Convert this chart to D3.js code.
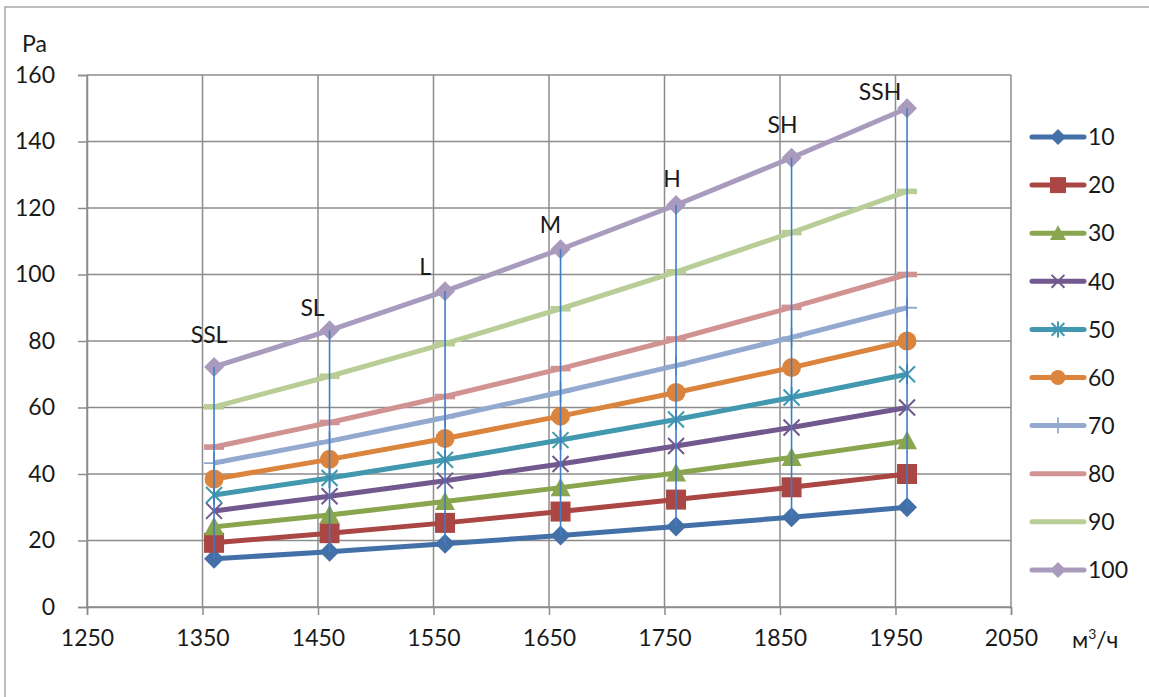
<!DOCTYPE html>
<html><head><meta charset="utf-8">
<script src="https://cdn.jsdelivr.net/npm/d3@7/dist/d3.min.js"></script>
<style>
html,body{margin:0;padding:0;background:#fff;}
svg{display:block;}
text{font-family:Lato,"Open Sans",sans-serif;fill:#1a1a1a;}
</style></head>
<body>
<script>
// ---- data ----
const flows = [1360, 1460, 1560, 1660, 1760, 1860, 1960];
const seriesNames = ["10","20","30","40","50","60","70","80","90","100"];
const s10  = [14.5, 16.6, 19.0, 21.5, 24.2, 27.0, 30];
const s20  = [19.3, 22.2, 25.3, 28.7, 32.3, 36.0, 40];
const s30  = [24.1, 27.7, 31.7, 35.9, 40.3, 45.0, 50];
const s40  = [28.9, 33.3, 38.0, 43.0, 48.4, 54.0, 60];
const s50  = [33.7, 38.8, 44.3, 50.2, 56.4, 63.0, 70];
const s60  = [38.5, 44.4, 50.7, 57.4, 64.5, 72.0, 80];
const s70  = [43.3, 49.9, 57.0, 64.6, 72.6, 81.1, 90];
const s80  = [48.1, 55.5, 63.3, 71.7, 80.6, 90.1, 100];
const s90  = [60.2, 69.4, 79.2, 89.7, 100.8, 112.6, 125];
const s100 = [72.2, 83.2, 95.0, 107.6, 120.9, 135.1, 150];
const pointLabels = ["SSL","SL","L","M","H","SH","SSH"];
const xTicks = [1250,1350,1450,1550,1650,1750,1850,1950,2050];
const yTicks = [0,20,40,60,80,100,120,140,160];

// ---- styles ----
const colors  = ["#4470a8","#aa4643","#89a54e","#71588f","#4198af","#db843d","#93a9cf","#d19392","#b9cd96","#a99bbd"];
const markers = ["diamond","square","triangle","x","star","circle","plus","dash","dash","diamond"];
const labelDx = [-5,-17,-20,-10,-4,-9,-27];
const labelDy = [-24,-14,-16,-16,-18,-25,-8];
const FS = "23px";

const allSeries = [s10,s20,s30,s40,s50,s60,s70,s80,s90,s100];

const W = 1149, H = 697;
const svg = d3.select("body").append("svg").attr("width", W).attr("height", H);

// outer chart border
svg.append("path").attr("d", `M5,${H} V7 H${W}`).attr("fill","none")
  .attr("stroke","#a6a6a6").attr("stroke-width",1.5);

const x = d3.scaleLinear().domain([1250,2050]).range([87,1011]);
const y = d3.scaleLinear().domain([0,160]).range([607,75]);
const gridColor = "#8c8c8c";

// gridlines
const g = svg.append("g");
g.selectAll(".vg").data(xTicks).join("line")
  .attr("x1", d=>x(d)).attr("x2", d=>x(d)).attr("y1", y(160)).attr("y2", y(0))
  .attr("stroke", gridColor).attr("stroke-width", 1.5);
g.selectAll(".hg").data(yTicks).join("line")
  .attr("x1", x(1250)).attr("x2", x(2050)).attr("y1", d=>y(d)).attr("y2", d=>y(d))
  .attr("stroke", gridColor).attr("stroke-width", 1.5);

// axes
const xAxis = d3.axisBottom(x).tickValues(xTicks).tickSize(8).tickPadding(15).tickFormat(d3.format("d"));
const yAxis = d3.axisLeft(y).tickValues(yTicks).tickSize(9).tickPadding(23).tickFormat(d3.format("d"));
const gx = svg.append("g").attr("transform", `translate(0,${y(0)})`).call(xAxis);
const gy = svg.append("g").attr("transform", `translate(${x(1250)},0)`).call(yAxis);
[gx, gy].forEach(a => {
  a.select(".domain").attr("stroke", gridColor).attr("stroke-width", 1.5);
  a.selectAll(".tick line").attr("stroke", gridColor).attr("stroke-width", 1.5);
  a.selectAll(".tick text").style("font-family","Lato,'Open Sans',sans-serif")
    .style("font-size",FS).attr("fill","#1a1a1a");
});
gx.selectAll(".tick text").attr("dy","0.71em");

// axis titles
svg.append("text").attr("x", 22).attr("y", 52).style("font-size",FS).text("Pa");
const unit = svg.append("text").attr("x", 1072).attr("y", 648).style("font-size",FS);
unit.append("tspan").text("м");
unit.append("tspan").attr("dy",-9).style("font-size","14px").text("3");
unit.append("tspan").attr("dy",9).text("/ч");

// marker drawing
function drawMarker(sel, type, color, s) {
  const h = s/2;
  if (type === "diamond") {
    sel.append("path").attr("d", `M0,${-h}L${h},0L0,${h}L${-h},0Z`).attr("fill", color);
  } else if (type === "square") {
    sel.append("rect").attr("x",-h).attr("y",-h).attr("width",s).attr("height",s).attr("fill",color);
  } else if (type === "triangle") {
    sel.append("path").attr("d", `M0,${-h}L${h},${h*0.85}L${-h},${h*0.85}Z`).attr("fill", color);
  } else if (type === "circle") {
    sel.append("circle").attr("r", h*0.95).attr("fill", color);
  } else if (type === "x") {
    const k = h*0.8;
    sel.append("path").attr("d", `M${-k},${-k}L${k},${k}M${-k},${k}L${k},${-k}`)
      .attr("stroke", color).attr("stroke-width", 2).attr("fill","none");
  } else if (type === "star") {
    const k = h*0.8;
    sel.append("path").attr("d", `M${-k},${-k}L${k},${k}M${-k},${k}L${k},${-k}M0,${-h}L0,${h}`)
      .attr("stroke", color).attr("stroke-width", 2).attr("fill","none");
  } else if (type === "plus") {
    sel.append("path").attr("d", `M${-h},0L${h},0M0,${-h}L0,${h}`)
      .attr("stroke", color).attr("stroke-width", 1.8).attr("fill","none");
  } else if (type === "dash") {
    sel.append("rect").attr("x",-h).attr("y",-2.8).attr("width",s).attr("height",5.6).attr("fill",color);
  }
}

// series
const line = d3.line().x((d,i)=>x(flows[i])).y(d=>y(d));
allSeries.forEach((vals, si) => {
  svg.append("path").datum(vals).attr("d", line).attr("fill","none")
    .attr("stroke", colors[si]).attr("stroke-width", 5).attr("stroke-linejoin","round");
  vals.forEach((v, i) => {
    const m = svg.append("g").attr("transform", `translate(${x(flows[i])},${y(v)})`);
    drawMarker(m, markers[si], colors[si], 20);
  });
});

// high-low lines
flows.forEach((f, i) => {
  const vs = allSeries.map(s => s[i]);
  svg.append("line").attr("x1", x(f)).attr("x2", x(f))
    .attr("y1", y(d3.min(vs))).attr("y2", y(d3.max(vs)))
    .attr("stroke", "#3f7cc6").attr("stroke-width", 1.6);
});

// point labels on top series
pointLabels.forEach((lab, i) => {
  svg.append("text").attr("x", x(flows[i]) + labelDx[i]).attr("y", y(s100[i]) + labelDy[i])
    .attr("text-anchor","middle").style("font-size",FS).text(lab);
});

// legend
seriesNames.forEach((name, i) => {
  const ly = 137 + i*48.1;
  const lg = svg.append("g");
  lg.append("line").attr("x1",1032).attr("x2",1084).attr("y1",ly).attr("y2",ly)
    .attr("stroke", colors[i]).attr("stroke-width",5).attr("stroke-linecap","round");
  const m = lg.append("g").attr("transform", `translate(1058,${ly})`);
  if (markers[i] !== "dash") drawMarker(m, markers[i], colors[i], 16);
  lg.append("text").attr("x",1088).attr("y",ly).attr("dy","0.36em").style("font-size",FS).text(name);
});
</script>
</body></html>
